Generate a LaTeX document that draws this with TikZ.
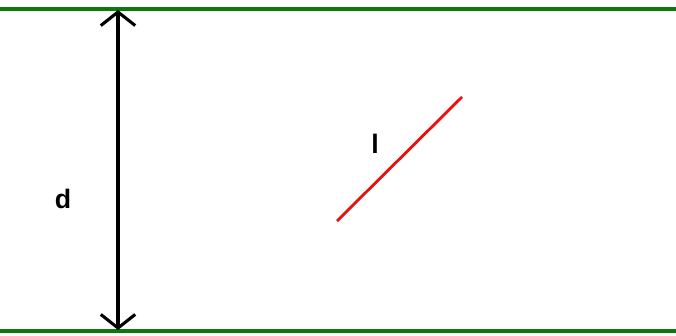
\documentclass[tikz,border=0pt]{standalone}
\usepackage{fontspec}
\setsansfont{Liberation Sans}
\usetikzlibrary{arrows.meta}
\definecolor{plategreen}{HTML}{0A7A0A}
\definecolor{rodred}{HTML}{E81010}

\begin{document}
\begin{tikzpicture}[x=0.025cm, y=-0.025cm,
  line cap=butt,
  plate/.style={draw=plategreen, line width=2.2pt},
  gap/.style={draw=black, line width=2.2pt,
              {Straight Barb[length=3.4mm, width=8.6mm, line width=2.2pt]}-{Straight Barb[length=3.4mm, width=8.6mm, line width=2.2pt]}},
  rod/.style={draw=rodred, line width=2pt},
  lbl/.style={font=\sffamily\bfseries\fontsize{19}{22}\selectfont, inner sep=0pt}]
\useasboundingbox (0,0) rectangle (676,335);

% the two plates
\draw[plate] (0,9) -- (676,9);
\draw[plate] (0,331) -- (676,331);

% separation
\coordinate (gtop) at (118,10);
\coordinate (gbot) at (118,330);
\draw[gap] (gtop) -- (gbot);
\node[lbl] (d) at (63,199) {d};

% the segment
\coordinate (la) at (337,221);
\coordinate (lb) at (462,97);
\draw[rod] (la) -- (lb);
\node[lbl] (l) at (375,144) {l};
\end{tikzpicture}
\end{document}
